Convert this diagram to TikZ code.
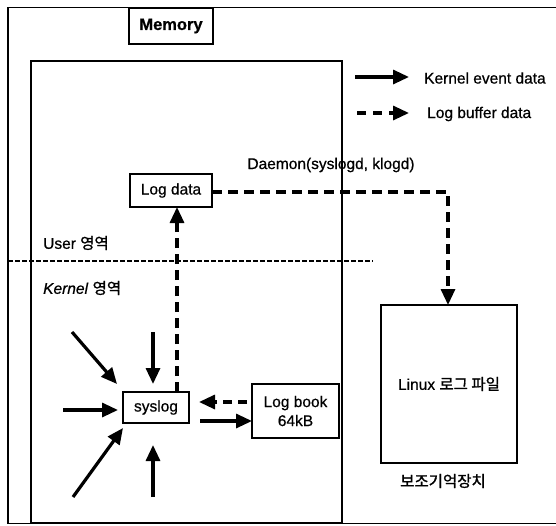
\documentclass[tikz,border=0pt]{standalone}
\usepackage{fontspec}
\setmainfont[FakeBold=0.6]{Liberation Sans}
\newfontfamily\kr[FakeBold=1.2]{Noto Sans CJK KR}
\usetikzlibrary{arrows.meta}
\tikzset{
  frame/.style={draw, line width=1.6pt},
  boxnode/.style={draw, line width=1.6pt, inner sep=0pt, font=\fontsize{15.5}{18}\selectfont},
  lbl/.style={inner sep=0pt, font=\fontsize{15.5}{18}\selectfont},
  evt/.style={line width=3.2pt, -{Triangle[length=16pt,width=14pt]}},
  buf/.style={line width=3.2pt, dash pattern=on 10pt off 6pt, -{Triangle[length=16pt,width=14pt]}},
  border/.style={line width=1.5pt, dash pattern=on 4.5pt off 2.5pt}
}
\begin{document}
\begin{tikzpicture}[x=1pt,y=-1pt]
\useasboundingbox (0,0) rectangle (556,525);
\fill[white] (0,0) rectangle (556,525);

% outer frame (open on the right)
\draw[frame] (556,7.5) -- (8,7.5) -- (8,523.5) -- (556,523.5);
% memory area
\draw[frame] (31,61) rectangle (342,523);
\node[boxnode, minimum width=84pt, minimum height=36pt, font=\fontsize{16.5}{19}\selectfont\bfseries] (mem) at (171,26) {Memory};

% legend
\coordinate (la1) at (355,77);  \coordinate (la2) at (409,77);
\coordinate (lb1) at (357,113); \coordinate (lb2) at (409,113);
\draw[evt] (la1) -- (la2);
\draw[buf, dash pattern=on 9pt off 7pt] (lb1) -- (lb2);
\node[lbl, anchor=west] (lka) at (424,78) {Kernel event data};
\node[lbl, anchor=west] (lkb) at (427,114) {Log buffer data};

% user / kernel boundary
\draw[border] (8,261) -- (373,261);
\node[lbl, anchor=west] (user) at (43,243) {User {\kr 영역}};
\node[lbl, anchor=west] (kern) at (43,288) {\textit{Kernel} {\kr 영역}};

% boxes
\node[boxnode, minimum width=82pt, minimum height=33pt] (logdata) at (171,190.5) {Log data};
\node[boxnode, minimum width=66pt, minimum height=31pt] (syslog) at (156,407.5) {syslog};
\node[boxnode, minimum width=87pt, minimum height=54pt, align=center] (logbook) at (295.5,411) {Log book\\[1pt]64kB};
\node[boxnode, minimum width=136pt, minimum height=158pt] (linux) at (449,384) {Linux {\kr 로그 파일}};
\node[lbl, font=\fontsize{15.5}{18}\selectfont\kr] (aux) at (443,481) {보조기억장치};
\node[lbl] (daemon) at (331,165) {Daemon(syslogd, klogd)};

% log buffer paths
\coordinate (up0) at (177,392);
\coordinate (up1) at (177,207);
\draw[buf] (up0) -- (up1);
\coordinate (d0) at (212,192);
\coordinate (d1) at (448,192);
\coordinate (d2) at (448,305);
\draw[buf] (d0) -- (d1) -- (d2);
\coordinate (b0) at (247,402);
\coordinate (b1) at (199,402);
\draw[buf, dash pattern=on 9pt off 6pt] (b0) -- (b1);
\coordinate (s0) at (200,421);
\coordinate (s1) at (252,421);
\draw[evt] (s0) -- (s1);

% kernel events into syslog
\coordinate (e1) at (72,332);  \coordinate (t1) at (117,384);
\coordinate (e2) at (153,332); \coordinate (t2) at (153,384);
\coordinate (e3) at (63,410);  \coordinate (t3) at (118,410);
\coordinate (e4) at (73,497);  \coordinate (t4) at (123,428);
\coordinate (e5) at (153,497); \coordinate (t5) at (153,445);
\foreach \i in {1,...,5} \draw[evt] (e\i) -- (t\i);
\end{tikzpicture}
\end{document}
